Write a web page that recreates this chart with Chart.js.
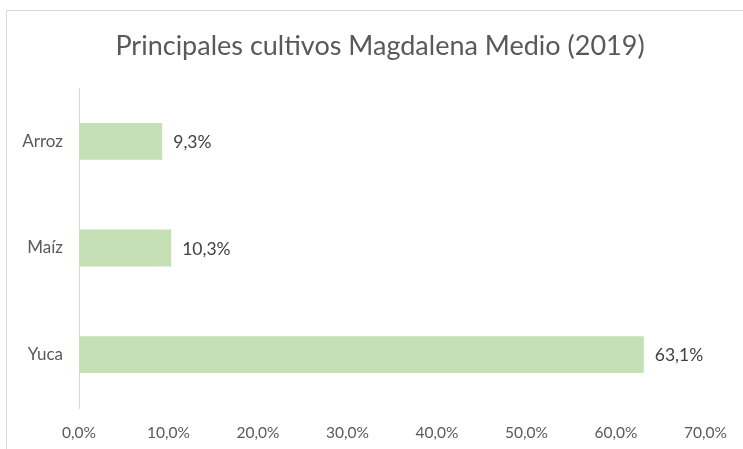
<!DOCTYPE html>
<html>
<head>
<meta charset="utf-8">
<script src="https://cdn.jsdelivr.net/npm/chart.js@4/dist/chart.umd.min.js"></script>
<style>
  html, body { margin: 0; padding: 0; background: #ffffff; overflow: hidden; }
  #wrap { position: relative; width: 743px; height: 449px; }
  #frame { position: absolute; left: 6px; top: 10px; width: 800px; height: 500px; border: 1px solid #d9d9d9; box-sizing: border-box; }
  canvas { position: absolute; left: 0; top: 0; }
</style>
</head>
<body>
<div id="wrap">
  <div id="frame"></div>
  <canvas id="c" width="743" height="449"></canvas>
</div>
<script>
const categories = ["Arroz", "Maíz", "Yuca"];
const values = [9.3, 10.3, 63.1];
const xTicks = [0, 10, 20, 30, 40, 50, 60, 70];
const titleText = "Principales cultivos Magdalena Medio (2019)";

const fmt = v => v.toFixed(1).replace('.', ',') + '%';

const dataLabels = {
  id: 'dataLabels',
  afterDatasetsDraw(chart) {
    const ctx = chart.ctx;
    const meta = chart.getDatasetMeta(0);
    ctx.save();
    ctx.font = '17.5px Lato, "Open Sans", sans-serif';
    ctx.fillStyle = '#404040';
    ctx.textAlign = 'left';
    ctx.textBaseline = 'middle';
    meta.data.forEach((bar, i) => {
      ctx.fillText(fmt(values[i]), bar.x + 11, bar.y + 1);
    });
    ctx.restore();
  }
};

const chartTitle = {
  id: 'chartTitle',
  afterDraw(chart) {
    const ctx = chart.ctx;
    ctx.save();
    ctx.font = '27px Lato, "Open Sans", sans-serif';
    ctx.fillStyle = '#595959';
    ctx.textAlign = 'center';
    ctx.textBaseline = 'middle';
    ctx.fillText(titleText, 380, 46);
    ctx.restore();
  }
};

new Chart(document.getElementById('c'), {
  type: 'bar',
  data: {
    labels: categories,
    datasets: [{
      data: values,
      backgroundColor: '#c5e0b4',
      borderWidth: 0,
      categoryPercentage: 1.0,
      barPercentage: 0.345
    }]
  },
  options: {
    indexAxis: 'y',
    responsive: false,
    animation: false,
    layout: { padding: { left: 0, right: 29, top: 88, bottom: 0 } },
    plugins: {
      legend: { display: false },
      tooltip: { enabled: false },
      title: { display: false }
    },
    scales: {
      x: {
        min: 0,
        max: 70,
        afterBuildTicks(scale) { scale.ticks = xTicks.map(v => ({ value: v })); },
        afterFit(scale) { scale.height = 41; },
        grid: { display: false, drawTicks: false },
        border: { display: false },
        ticks: {
          padding: 16,
          color: '#595959',
          font: { family: 'Lato, "Open Sans", sans-serif', size: 15.5 },
          callback: v => fmt(v),
          maxRotation: 0
        }
      },
      y: {
        afterFit(scale) { scale.width = 79; },
        grid: { display: true, drawOnChartArea: false, drawTicks: false, color: 'rgba(0,0,0,0)' },
        border: { display: true, color: '#d9d9d9', width: 1 },
        ticks: {
          padding: 16,
          color: '#595959',
          font: { family: 'Lato, "Open Sans", sans-serif', size: 17 }
        }
      }
    }
  },
  plugins: [dataLabels, chartTitle]
});
</script>
</body>
</html>
